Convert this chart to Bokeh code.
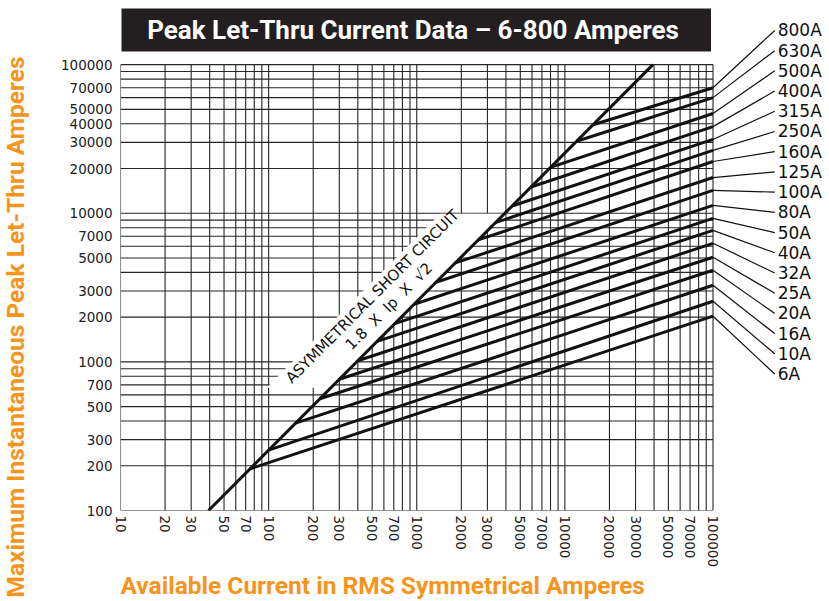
import math
from bokeh.plotting import figure
from bokeh.models import Range1d, FixedTicker, NumeralTickFormatter, Title
from bokeh.core.properties import value
from bokeh.embed import file_html
from bokeh.resources import INLINE

# ---------------- data ----------------
fuse_labels = ["800A", "630A", "500A", "400A", "315A", "250A", "160A", "125A", "100A",
               "80A", "50A", "40A", "32A", "25A", "20A", "16A", "10A", "6A"]
# available current (A rms) where each fuse curve leaves the short-circuit line
fuse_start_current = [15500, 12000, 8000, 5900, 4400, 3400, 2600, 1820, 1350,
                      960, 710, 540, 400, 300, 222, 152, 100, 75]
# peak let-thru current (A) at 100 000 A available
fuse_peak_at_max = [70000, 60000, 46900, 38300, 31400, 26500, 22300, 17400, 14250,
                    11300, 9240, 7680, 6280, 5060, 4140, 3280, 2560, 2030]
max_current = 100000

sc_factor = 1.8 * math.sqrt(2)          # 1.8 x Ip x sqrt(2)
sc_current = [39.3, 39300]

x_ticks = [10, 20, 30, 50, 70, 100, 200, 300, 500, 700, 1000, 2000, 3000, 5000, 7000,
           10000, 20000, 30000, 50000, 70000, 100000]
y_ticks = [100, 200, 300, 500, 700, 1000, 2000, 3000, 5000, 7000, 10000, 20000, 30000,
           40000, 50000, 70000, 100000]
grid_multipliers = [1, 2, 3, 4, 5, 6, 7, 8, 9]
x_decades = [10, 100, 1000, 10000]
y_decades = [100, 1000, 10000]

# ---------------- layout helpers (image pixel -> data) ----------------
W, H = 829, 601
LEFT, BOTTOM = 117, 90
DX, DY = 148.75, 148.9
IMG_X0 = LEFT            # pixel x of the value 10
IMG_Y0 = H - BOTTOM      # pixel y of the value 100


def xd(ix):
    return 10 ** (1 + (ix - IMG_X0) / DX)


def yd(iy):
    return 10 ** (2 + (IMG_Y0 - iy) / DY)


ORANGE = "#F7941D"
BOLD = "Roboto"

p = figure(width=W, height=H, x_axis_type="log", y_axis_type="log",
           x_range=Range1d(10, xd(W)), y_range=Range1d(100, yd(0)),
           output_backend="svg", toolbar_location=None,
           min_border_left=LEFT, min_border_bottom=BOTTOM,
           min_border_top=0, min_border_right=0)
p.outline_line_color = None
p.xgrid.visible = False
p.ygrid.visible = False
p.background_fill_color = "white"

for ax, ticks in ((p.xaxis, x_ticks), (p.yaxis, y_ticks)):
    ax.ticker = FixedTicker(ticks=ticks)
    ax.formatter = NumeralTickFormatter(format="0")
    ax.axis_line_color = None
    ax.major_tick_line_color = None
    ax.minor_tick_line_color = None
    ax.major_tick_out = 0
    ax.major_tick_in = 0
    ax.minor_tick_out = 0
    ax.minor_tick_in = 0
    ax.major_label_text_font = "DejaVu Sans"
    ax.major_label_text_font_size = "13.5px"
    ax.major_label_text_color = "#222222"
p.xaxis.major_label_orientation = -math.pi / 2
p.xaxis.major_label_standoff = 5
p.yaxis.major_label_standoff = 8
# blank axis label only pads the left panel so the orange title sits at the edge
p.yaxis.axis_label = " "
p.yaxis.axis_label_text_font_size = "1px"
p.yaxis.axis_label_standoff = 22

# ---------------- grid ----------------
gx = [d * m for d in x_decades for m in grid_multipliers] + [max_current]
gy = [d * m for d in y_decades for m in grid_multipliers] + [max_current]
p.segment(x0=gx, x1=gx, y0=[y_ticks[0]] * len(gx), y1=[y_ticks[-1]] * len(gx),
          line_color="#262626", line_width=1.1)
p.segment(x0=[x_ticks[0]] * len(gy), x1=[x_ticks[-1]] * len(gy), y0=gy, y1=gy,
          line_color="#262626", line_width=1.1)

# white band that carries the short-circuit caption
band_px = [(328.7, 388), (503, 213.7), (438, 213.7), (263.7, 388)]
p.patch([xd(a) for a, b in band_px], [yd(b) for a, b in band_px],
        fill_color="white", line_color=None)

# ---------------- title box ----------------
p.quad(left=[xd(118)], right=[xd(710)], top=[yd(8)], bottom=[yd(51)],
       fill_color="#231F20", line_color=None)
p.text(x=[xd(414)], y=[yd(30)], text=["Peak Let-Thru Current Data  \u2013 6-800 Amperes"],
       text_font=value(BOLD), text_font_style="bold", text_font_size="26px",
       text_color="white", text_align="center", text_baseline="middle")

# ---------------- curves ----------------
p.line(sc_current, [sc_factor * c for c in sc_current], line_color="#111111", line_width=3)

for lab, c0, pk in zip(fuse_labels, fuse_start_current, fuse_peak_at_max):
    p.line([c0, max_current], [sc_factor * c0, pk], line_color="#111111", line_width=3)

# leaders and labels
lab_px_y = [30 + i * 20.25 for i in range(len(fuse_labels))]
p.segment(x0=[max_current] * len(fuse_labels), y0=fuse_peak_at_max,
          x1=[xd(774)] * len(fuse_labels), y1=[yd(v) for v in lab_px_y],
          line_color="#111111", line_width=1.2)
p.text(x=[xd(777)] * len(fuse_labels), y=[yd(v) for v in lab_px_y], text=fuse_labels,
       text_font=value("DejaVu Sans"), text_font_size="17px", text_color="#111111",
       text_align="left", text_baseline="middle")

# short-circuit caption
NB = "\u00a0"
p.text(x=[xd(370), xd(386.5)], y=[yd(296.5), yd(306.5)],
       text=["ASYMMETRICAL SHORT CIRCUIT",
             "1.8" + NB * 2 + "X" + NB * 2 + "Ip" + NB * 2 + "X" + NB * 2 + "\u221a2"],
       angle=math.pi / 4, text_font=value("DejaVu Sans"), text_font_size="15px",
       text_color="#111111", text_align="center", text_baseline="middle")

# ---------------- axis titles ----------------
p.add_layout(Title(text="Available Current in RMS Symmetrical Amperes",
                   align="left", offset=0, standoff=0, vertical_align="top",
                   text_font=BOLD, text_font_style="bold", text_font_size="24.5px",
                   text_color=ORANGE), "below")
p.add_layout(Title(text="Maximum Instantaneous Peak Let-Thru Amperes",
                   align="left", offset=-(598 - IMG_Y0), standoff=0, vertical_align="top",
                   text_font=BOLD, text_font_style="bold", text_font_size="24.5px",
                   text_color=ORANGE), "left")

open("out.html", "w").write(file_html(p, INLINE))
